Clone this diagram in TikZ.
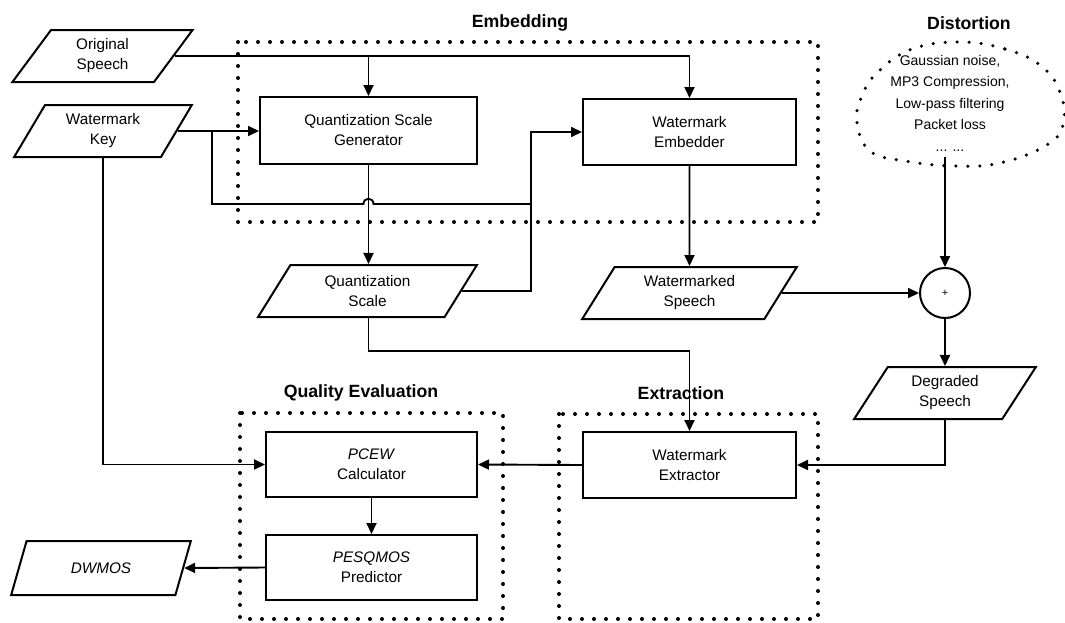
\documentclass[tikz,border=0pt]{standalone}
\usepackage{fontspec}
\setmainfont{Liberation Sans}
\usetikzlibrary{shapes.geometric,arrows.meta,calc}
\begin{document}
\begin{tikzpicture}[x=1pt,y=-1pt,
  lbl/.style={font=\fontsize{15.3}{20}\selectfont, align=center},
  procbox/.style={draw, line width=2pt, rectangle, inner sep=0pt, lbl},
  databox/.style={draw, line width=2pt, trapezium, trapezium left angle=60,
    trapezium right angle=120, trapezium stretches=true, inner sep=0pt, lbl},
  grp/.style={line width=4pt, line cap=round, dash pattern=on 0pt off 12pt},
  grptitle/.style={font=\fontsize{17.7}{21}\selectfont\bfseries},
  flow/.style={line width=1.9pt, -{Triangle[length=11pt,width=10pt]}},
  wire/.style={line width=1.9pt},
]
\useasboundingbox (0,0) rectangle (1065,622);

% dotted stage frames
\draw[grp] (238,42) rectangle (818,222);
\draw[grp] (240,413) rectangle (503,619);
\draw[grp] (559,414) rectangle (818,619);

% distortion cloud
\draw[grp, line width=3.5pt] plot[smooth cycle, tension=0.7] coordinates {
  (960,42) (1005,49) (1040,65) (1060,92) (1063,125) (1045,146) (1000,163)
  (955,166) (905,161) (870,151) (857,122) (862,96) (878,72) (912,49)};

% stage titles
\node[grptitle] (tEmb) at (520,23) {Embedding};
\node[grptitle] (tDis) at (969,23) {Distortion};
\node[grptitle] (tQual) at (361,393) {Quality Evaluation};
\node[grptitle] (tExt) at (681,393) {Extraction};

% blocks
\node[databox, minimum width=181pt, minimum height=52pt] (os) at (102.5,56) {Original\\Speech};
\node[databox, minimum width=178pt, minimum height=52pt] (wk) at (103,131) {Watermark\\Key};
\node[procbox, minimum width=217pt, minimum height=67pt] (qsg) at (368.5,130.5) {Quantization Scale\\Generator};
\node[procbox, minimum width=213pt, minimum height=66pt] (we) at (689.5,132) {Watermark\\Embedder};
\node[databox, minimum width=219pt, minimum height=52pt] (qs) at (367.5,291) {Quantization\\Scale};
\node[databox, minimum width=215pt, minimum height=52pt] (ws) at (689.5,293) {Watermarked\\Speech};
\node[draw, circle, line width=2pt, minimum size=50pt, inner sep=0pt,
      font=\fontsize{11}{12}\selectfont] (sum) at (945,293) {+};
\node[databox, minimum width=182pt, minimum height=52pt] (ds) at (945,393) {Degraded\\Speech};
\node[procbox, minimum width=211pt, minimum height=65pt] (pcew) at (371.5,464.5) {\textit{PCEW}\\Calculator};
\node[procbox, minimum width=211pt, minimum height=65pt] (pesq) at (371.5,567.5) {\textit{PESQMOS}\\Predictor};
\node[procbox, minimum width=213pt, minimum height=66pt] (wx) at (689.5,465) {Watermark\\Extractor};
\node[databox, minimum width=180pt, minimum height=54pt] (dw) at (101,568) {\textit{DWMOS}};

\node[font=\fontsize{14}{21.5}\selectfont, align=center, inner sep=0pt] (dist) at (950,103)
  {Gaussian noise,\\MP3 Compression,\\Low-pass filtering\\Packet loss\\... ...};

% helper points
\coordinate (kbr) at (212,131);
\coordinate (jn) at (531,204);
\coordinate (qsb) at (368.5,351);
\coordinate (dtail) at (945,157);

% connectors
\draw[flow] (os.east) -- (we.north |- os.east) -- (we.north);
\draw[flow] (qsg.north |- os.east) -- (qsg.north);
\draw[flow] (wk.east) -- (wk.east -| qsg.west);
\draw[wire] (kbr) -- (kbr |- jn) -- ($(qsg.south |- jn)+(-5,0)$)
  .. controls +(0,-7) and +(0,-7) .. ($(qsg.south |- jn)+(5,0)$) -- (jn);
\draw[flow] (qs.east) -- (qs.east -| jn) -- (jn |- we.west) -- (we.west);
\draw[flow] (qsg.south) -- (qs.north -| qsg.south);
\draw[flow] (we.south) -- (ws.north);
\draw[flow] (ws.east) -- (sum.west);
\draw[flow] (dtail) -- (sum.north);
\draw[flow] (sum.south) -- (ds.north);
\draw[flow] (ds.center |- ds.south) -- (ds.center |- wx.east) -- (wx.east);
\draw[flow] (qsg.south |- qs.south) -- (qsb) -- (wx.north |- qsb) -- (wx.north);
\draw[flow] (wk.center |- wk.south) -- (wk.center |- pcew.west) -- (pcew.west);
\draw[flow] (wx.west) -- (pcew.east);
\draw[flow] (pcew.south) -- (pesq.north);
\draw[flow] (pesq.west) -- (dw.east);
\end{tikzpicture}
\end{document}
